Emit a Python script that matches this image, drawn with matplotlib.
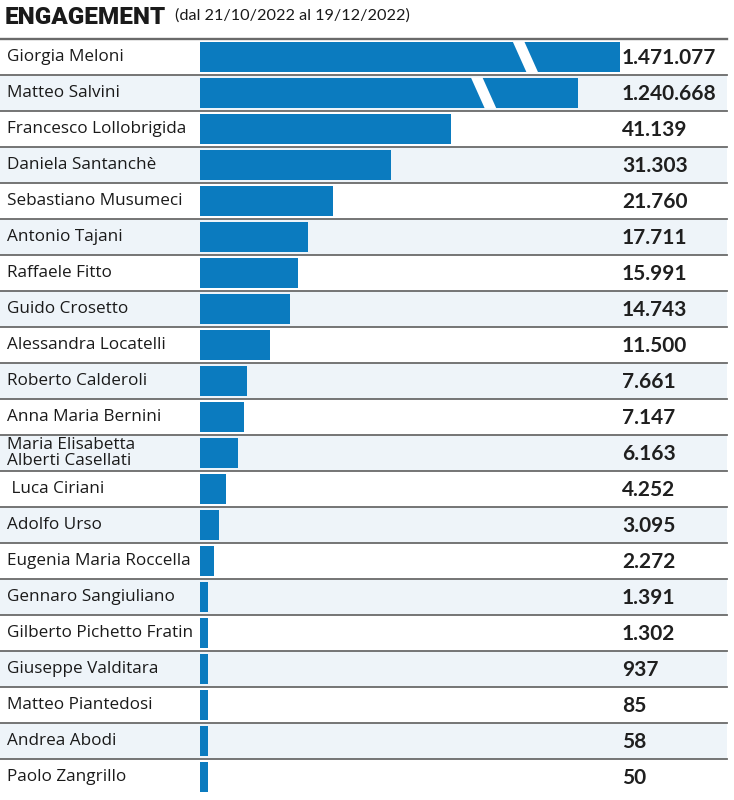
import numpy as np
import matplotlib.pyplot as plt
from matplotlib.patches import Polygon

names = [
    "Giorgia Meloni", "Matteo Salvini", "Francesco Lollobrigida",
    "Daniela Santanchè", "Sebastiano Musumeci", "Antonio Tajani",
    "Raffaele Fitto", "Guido Crosetto", "Alessandra Locatelli",
    "Roberto Calderoli", "Anna Maria Bernini",
    "Maria Elisabetta\nAlberti Casellati", " Luca Ciriani", "Adolfo Urso",
    "Eugenia Maria Roccella", "Gennaro Sangiuliano",
    "Gilberto Pichetto Fratin", "Giuseppe Valditara", "Matteo Piantedosi",
    "Andrea Abodi", "Paolo Zangrillo",
]
engagement = [1471077, 1240668, 41139, 31303, 21760, 17711, 15991, 14743,
              11500, 7661, 7147, 6163, 4252, 3095, 2272, 1391, 1302, 937,
              85, 58, 50]
value_labels = ["1.471.077", "1.240.668", "41.139", "31.303", "21.760",
                "17.711", "15.991", "14.743", "11.500", "7.661", "7.147",
                "6.163", "4.252", "3.095", "2.272", "1.391", "1.302", "937",
                "85", "58", "50"]

title = "ENGAGEMENT"
subtitle = "(dal 21/10/2022 al 19/12/2022)"

# layout (pixels of the 734x800 image)
W, H = 734, 800
PX_PER_UNIT = 6.1 / 1000      # bar scale
X0_PX = 200                   # bar origin
ROW_PX = 36
ROW0_PX = 57                  # centre of first row
RIGHT_PX = 727
MIN_SHOW = 1300               # tiny bars still visible
BROKEN = {0: 68850, 1: 62000}  # drawn length of the cut bars
BREAK_BACK = 15500            # gap centre measured back from the bar end
BLUE = "#0b7bbf"
BAND = "#eef4f9"

plt.rcParams['font.family'] = ['Open Sans', 'DejaVu Sans']

vals = np.array(engagement, dtype=float)
shown = np.maximum(vals, MIN_SHOW)
for i, v in BROKEN.items():
    shown[i] = v
n = len(names)
y = np.arange(n)

fig = plt.figure(figsize=(W / 100, H / 100), dpi=100)
ax = fig.add_axes([0, 0, 1, 1])
ax.set_xlim(-X0_PX / PX_PER_UNIT, (W - X0_PX) / PX_PER_UNIT)
ax.set_ylim((H - ROW0_PX) / ROW_PX, -ROW0_PX / ROW_PX)
ax.axis('off')

xr = RIGHT_PX / W
for i in range(n):
    if i % 2 == 1:
        ax.axhspan(i - 0.5, i + 0.5, xmin=0, xmax=xr, color=BAND, lw=0, zorder=0)
    ax.axhline(i - 0.5, xmin=0, xmax=xr, color="#6a6a6a",
               lw=1.7 if i == 0 else 1.3, zorder=1)

bh = 0.83
ax.barh(y, shown, height=bh, color=BLUE, zorder=2)

# white slash on the cut bars
slant = 2300
gap = 1900
for i in BROKEN:
    c = shown[i] - BREAK_BACK
    top, bot = i - bh / 2 - 0.02, i + bh / 2 + 0.02
    ax.add_patch(Polygon([(c - slant / 2 - gap / 2, top), (c - slant / 2 + gap / 2, top),
                          (c + slant / 2 + gap / 2, bot), (c + slant / 2 - gap / 2, bot)],
                         closed=True, color="white", lw=0, zorder=3))

tr = ax.get_yaxis_transform()
for i in range(n):
    ax.text(7 / W, i, names[i], transform=tr, ha='left', va='center',
            fontsize=12.3, color="#1a1a1a", linespacing=0.95)
    ax.text(622 / W, i + 0.04, value_labels[i], transform=tr, ha='left',
            va='center', fontsize=15, fontweight='bold', color="#1f1f1f",
            family=['Lato', 'DejaVu Sans'])

fig.text(5 / W, 1 - 17 / H, title, ha='left', va='center', fontsize=17.5,
         fontweight='black', color="#1a1a1a", family=['Roboto', 'DejaVu Sans'])
fig.text(175 / W, 1 - 16 / H, subtitle, ha='left', va='center', fontsize=11.7,
         color="#1a1a1a", family=['Lato', 'DejaVu Sans'])

fig.savefig("out.png", dpi=100)
